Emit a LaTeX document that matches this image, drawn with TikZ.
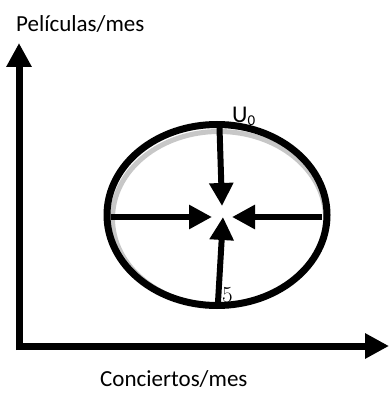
\documentclass[tikz,border=0pt]{standalone}
\usepackage{fontspec}
\setmainfont{Carlito}
\newfontfamily\lmfont{Latin Modern Roman}
\usetikzlibrary{arrows.meta,shapes.geometric}
\begin{document}
\begin{tikzpicture}[x=1pt,y=-1pt,
  axis/.style={line width=7pt,-{Triangle[length=24pt,width=24pt]}},
  force/.style={line width=6pt,-{Triangle[length=23pt,width=23pt]}},
  lbl/.style={inner sep=0pt,anchor=base west,font=\fontsize{23}{26}\selectfont}]
\useasboundingbox (0,0) rectangle (389,403);
% shadow
\draw[line width=5pt,black!22] (219,218.5) ellipse [x radius=106.5, y radius=87];
% ellipse
\node[draw,line width=7pt,ellipse,minimum width=220pt,minimum height=181pt,inner sep=0pt] (u) at (217,215) {};
% axes
\coordinate (o) at (19,350);
\coordinate (ytip) at (19,43);
\coordinate (xo) at (16,346);
\coordinate (xtip) at (389,346);
\draw[axis] (o) -- (ytip);
\draw[axis] (xo) -- (xtip);
% forces
\coordinate (t0) at (219.5,128);
\coordinate (t1) at (222,206);
\coordinate (l0) at (111,217);
\coordinate (l1) at (212,217);
\coordinate (r0) at (322,217);
\coordinate (r1) at (232,217);
\coordinate (b0) at (218,302);
\coordinate (b1) at (223,217);
\draw[force] (t0) -- (t1);
\draw[force] (l0) -- (l1);
\draw[force] (r0) -- (r1);
\draw[force] (b0) -- (b1);
% labels
\node[lbl] (ylab) at (16,32) {Películas/mes};
\node[lbl] (xlab) at (100,386) {Conciertos/mes};
\node[lbl,font=\fontsize{24}{26}\selectfont] (ulab) at (232,123) {U\raisebox{-3pt}{\fontsize{15}{16}\selectfont 0}};
\node[lbl,font=\lmfont\fontsize{23}{26}\selectfont] (five) at (222,302) {5};
\end{tikzpicture}
\end{document}
